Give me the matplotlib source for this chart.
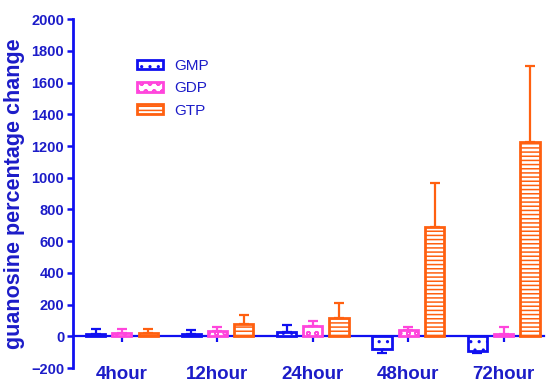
import numpy as np
import matplotlib.pyplot as plt

timepoints = ['4hour', '12hour', '24hour', '48hour', '72hour']
nucleotides = ['GMP', 'GDP', 'GTP']

gmp_mean = [12, 15, 27, -80, -95]
gmp_err = [35, 25, 42, 22, 12]
gdp_mean = [20, 35, 68, 38, 17]
gdp_err = [28, 22, 28, 20, 40]
gtp_mean = [20, 80, 118, 690, 1225]
gtp_err = [25, 57, 95, 280, 482]

colors = ['#1010f0', '#ff45dc', '#ff6010']
hatches = ['..', 'oo', '----']
text_col = '#1c1cc8'

plt.rcParams['font.family'] = ['Liberation Sans', 'DejaVu Sans']
plt.rcParams['hatch.linewidth'] = 1.1
fig = plt.figure(figsize=(5.46, 3.83), dpi=100)
ax = fig.add_axes([0.134, 0.039, 0.862, 0.911])

x = np.arange(len(timepoints))
width = 0.2
offset = 0.275
means = [gmp_mean, gdp_mean, gtp_mean]
errs = [gmp_err, gdp_err, gtp_err]

for i, (name, m, e) in enumerate(zip(nucleotides, means, errs)):
    m = np.array(m)
    e = np.array(e)
    # one-sided error bars, pointing away from zero
    lower = np.where(m < 0, e, 0)
    upper = np.where(m >= 0, e, 0)
    pos = x + (i - 1) * offset
    ax.errorbar(pos, m, yerr=[lower, upper], fmt='none', ecolor=colors[i],
                elinewidth=1.6, capsize=3.5, capthick=1.6, zorder=2)
    ax.bar(pos, m, width, color='white', edgecolor=colors[i], hatch=hatches[i],
           linewidth=2.0, label=name, zorder=3)

ax.set_xlim(-0.51, 4.42)
ax.set_ylim(-200, 2000)
ax.set_yticks(np.arange(-200, 2001, 200))

ax.spines['top'].set_visible(False)
ax.spines['right'].set_visible(False)
ax.spines['bottom'].set_position(('data', 0))
ax.spines['left'].set_color(colors[0])
ax.spines['bottom'].set_color(colors[0])
ax.spines['left'].set_linewidth(2.0)
ax.spines['bottom'].set_linewidth(1.6)

ax.set_xticks(x)
ax.set_xticklabels(timepoints)
ax.tick_params(axis='x', length=4.5, width=1.6, color=colors[0], pad=17,
               labelsize=13.5, labelcolor=text_col)
ax.tick_params(axis='y', length=4.5, width=1.8, color=colors[0], pad=2,
               labelsize=10.5, labelcolor=text_col)
for lab in ax.get_xticklabels() + ax.get_yticklabels():
    lab.set_fontweight('bold')

ax.set_ylabel('guanosine percentage change', fontsize=15.5, fontweight='bold',
              color=text_col, labelpad=4)

leg = ax.legend(loc='upper left', bbox_to_anchor=(0.136, 0.886), frameon=False,
                fontsize=11, handlelength=1.7, handleheight=0.6,
                labelspacing=0.55, handletextpad=0.7, borderpad=0,
                borderaxespad=0)
for t in leg.get_texts():
    t.set_color(text_col)

fig.savefig('out.png', dpi=100)
